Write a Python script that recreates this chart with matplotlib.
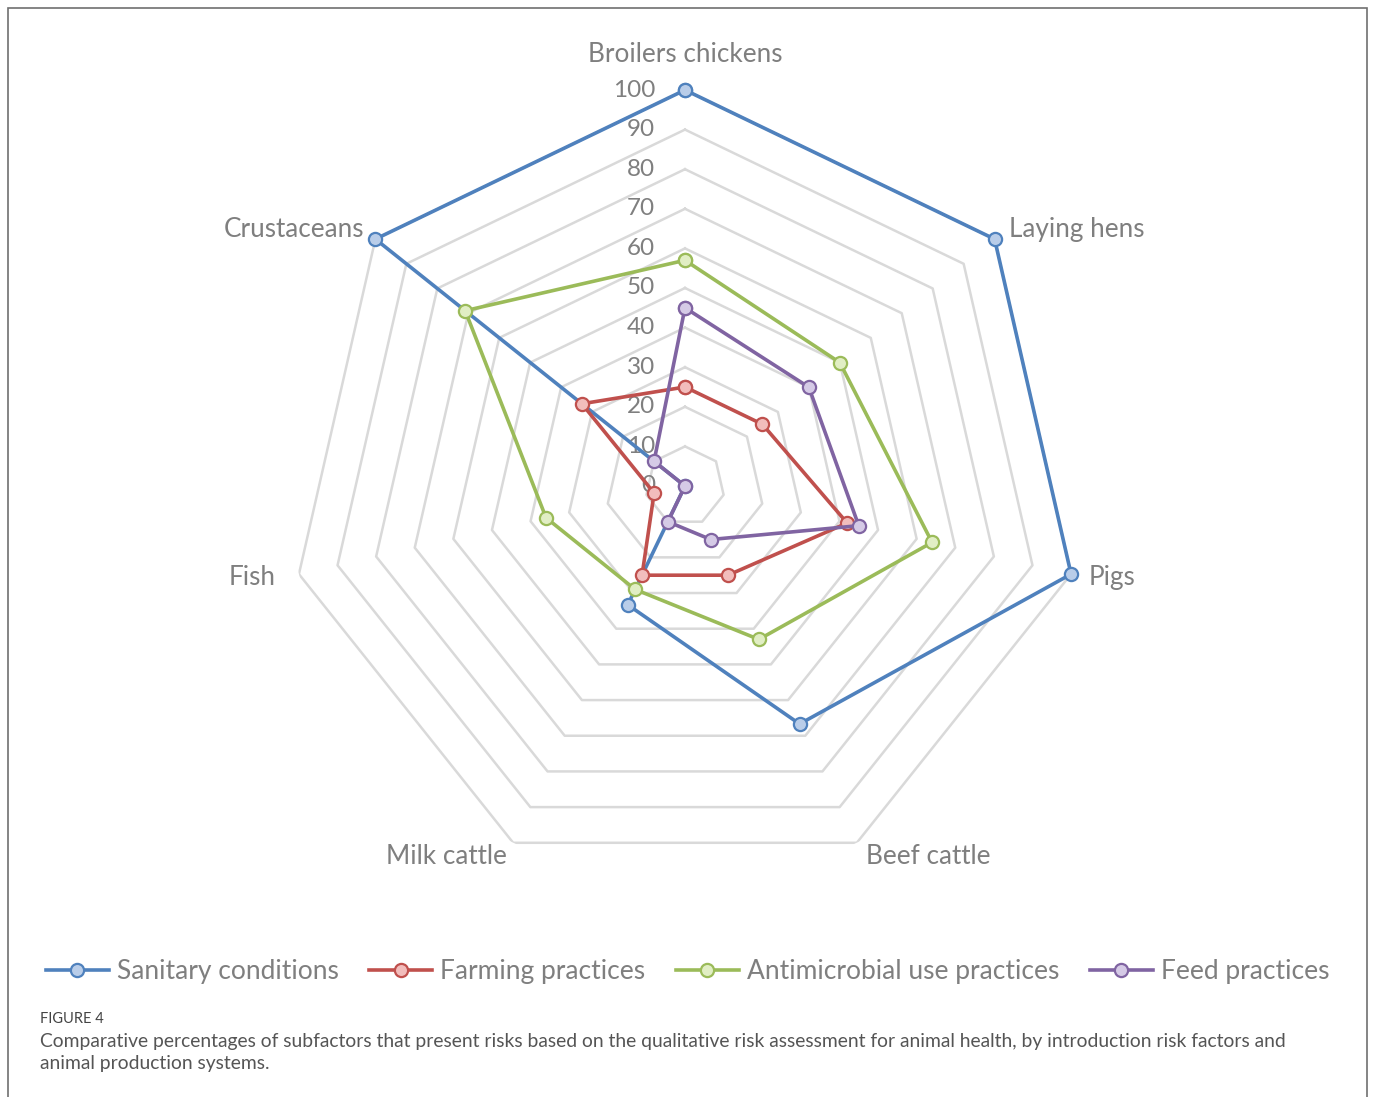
import numpy as np
import matplotlib
matplotlib.use('Agg')
import matplotlib.pyplot as plt
from matplotlib.patches import Rectangle

plt.rcParams['font.family'] = ['Lato', 'DejaVu Sans']

categories = ['Broilers chickens', 'Laying hens', 'Pigs', 'Beef cattle',
              'Milk cattle', 'Fish', 'Crustaceans']
sanitary = [100, 100, 100, 66.7, 33.3, 0, 100]
farming = [25, 25, 42, 25, 25, 8, 33.3]
antimicrobial = [57, 50, 64, 43, 29, 36, 71]
feed = [45, 40, 45, 15, 10, 0, 10]
series_names = ['Sanitary conditions', 'Farming practices',
                'Antimicrobial use practices', 'Feed practices']
ticks = [0, 10, 20, 30, 40, 50, 60, 70, 80, 90, 100]

line_colors = ['#4F81BD', '#C0504D', '#9BBB59', '#8064A2']
fill_colors = ['#B9CDE9', '#F2BDBC', '#E1EEC4', '#D5CAE6']
text_gray = '#7f7f7f'

# label offsets in pixels from the 100 vertex: (dx, dy, ha)
label_pos = [(0, 36, 'center'), (14, 10, 'left'), (18, -3, 'left'),
             (9, -14, 'left'), (-6, -14, 'right'), (-23, -3, 'right'),
             (-11, 10, 'right')]

n = len(categories)
ang = np.arange(n) * 2 * np.pi / n
ang_c = np.append(ang, ang[0])

fig = plt.figure(figsize=(13.75, 10.97), dpi=100)
ax = fig.add_axes([289 / 1375, 215 / 1097, 792 / 1375, 792 / 1097],
                  projection='polar')
ax.set_theta_offset(np.pi / 2)
ax.set_theta_direction(-1)
ax.set_ylim(0, 100)
ax.grid(False)
ax.spines['polar'].set_visible(False)
ax.set_xticks([])
ax.set_yticks([])
ax.patch.set_visible(False)

# heptagon grid
for t in ticks[1:]:
    ax.plot(ang_c, [t] * (n + 1), color='#d9d9d9', lw=1.8, zorder=1)

for t in ticks:
    ax.annotate(str(t), xy=(0, t), xytext=(-30, 0), textcoords='offset pixels',
                ha='right', va='center', fontsize=17.5, color=text_gray, zorder=2)

for a, cat, (dx, dy, ha) in zip(ang, categories, label_pos):
    ax.annotate(cat, xy=(a, 100), xytext=(dx, dy), textcoords='offset pixels',
                ha=ha, va='center', fontsize=18.8, color=text_gray,
                annotation_clip=False)

all_series = [sanitary, farming, antimicrobial, feed]
for vals, name, lc, fc in zip(all_series, series_names, line_colors, fill_colors):
    v = list(vals) + [vals[0]]
    ax.plot(ang_c, v, color=lc, lw=2.6, marker='o', ms=9.5, mfc=fc, mec=lc,
            mew=1.6, label=name, clip_on=False, zorder=3)

leg = fig.legend(loc='center', bbox_to_anchor=(0.5, 1 - 972 / 1097), ncol=4,
                 frameon=False, fontsize=19, handlelength=2.4,
                 handletextpad=0.3, columnspacing=1.15)
for txt in leg.get_texts():
    txt.set_color(text_gray)

fig.add_artist(Rectangle((8 / 1375, -0.01), 1359 / 1375, 1089 / 1097 + 0.01,
                         transform=fig.transFigure, fill=False,
                         ec='#707070', lw=1.2))

fig.text(40 / 1375, 1 - 1019 / 1097, 'FIGURE 4', fontsize=10.5, color='#444444',
         va='center')
fig.text(40 / 1375, 1 - 1041 / 1097,
         'Comparative percentages of subfactors that present risks based on the '
         'qualitative risk assessment for animal health, by introduction risk factors and',
         fontsize=13.9, color='#555555', va='center')
fig.text(40 / 1375, 1 - 1064 / 1097, 'animal production systems.',
         fontsize=13.9, color='#555555', va='center')

fig.savefig('out.png', dpi=100)
